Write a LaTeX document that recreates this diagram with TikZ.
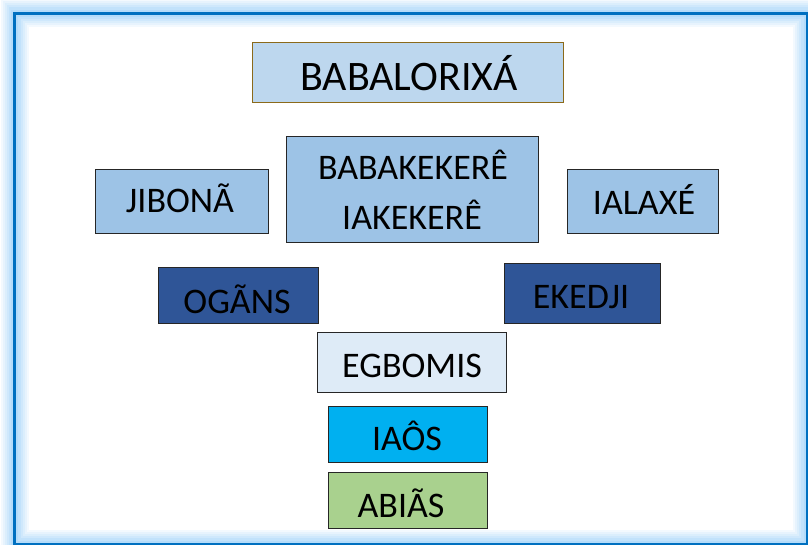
\documentclass[tikz,border=0pt]{standalone}
\usepackage{fontspec}
\setmainfont{Carlito}
\definecolor{frameblue}{HTML}{0070C0}
\definecolor{glowblue}{HTML}{9DD0F8}
\definecolor{topfill}{HTML}{BDD7EE}
\definecolor{topdraw}{HTML}{8B6A1A}
\definecolor{midfill}{HTML}{9DC3E6}
\definecolor{darkfill}{HTML}{2F5597}
\definecolor{paleFill}{HTML}{DEEBF7}
\definecolor{cyanfill}{HTML}{00B0F0}
\definecolor{greenfill}{HTML}{A9D18E}
\tikzset{
  boxbase/.style={draw=black!85, line width=1.3pt, rectangle, inner sep=0pt, anchor=north west},
  lbl/.style={anchor=base, inner sep=0pt, font=\fontsize{36}{40}\selectfont, text=black},
}
\begin{document}
\begin{tikzpicture}[x=1pt,y=-1pt]
\useasboundingbox (0,0) rectangle (808,545);
\begin{scope}
\clip (0,0) rectangle (808,545);
\foreach \w/\o in {28/0.12,24/0.14,20/0.16,16/0.2,12/0.25,7/0.35}{
  \draw[glowblue, line width=\w pt, opacity=\o] (14.5,13.5) rectangle (807,544);
}
\draw[frameblue, line width=2.6pt] (14.5,13.5) rectangle (807,544);
\end{scope}
% boxes
\node[boxbase, draw=topdraw, fill=topfill, minimum width=311pt, minimum height=60pt] (bab) at (252,42) {};
\node[boxbase, fill=midfill, minimum width=173pt, minimum height=64pt] (jib) at (95,169) {};
\node[boxbase, fill=midfill, minimum width=252pt, minimum height=106pt] (bk) at (286,136) {};
\node[boxbase, fill=midfill, minimum width=151pt, minimum height=64pt] (ial) at (567,169) {};
\node[boxbase, fill=darkfill, minimum width=160pt, minimum height=56pt] (og) at (158,267) {};
\node[boxbase, fill=darkfill, minimum width=156pt, minimum height=60pt] (ek) at (504,263) {};
\node[boxbase, fill=paleFill, minimum width=189pt, minimum height=60pt] (eg) at (317,332) {};
\node[boxbase, fill=cyanfill, minimum width=159pt, minimum height=56pt] (ia) at (328,406) {};
\node[boxbase, fill=greenfill, minimum width=159pt, minimum height=56pt] (ab) at (328,472) {};
% labels
\node[lbl, font=\fontsize{42}{46}\selectfont] (tbab) at (409,91) {BABALORIXÁ};
\node[lbl] (tjib) at (180,213) {JIBONÃ};
\node[lbl] (tbk1) at (413,180) {BABAKEKERÊ};
\node[lbl] (tbk2) at (412,230) {IAKEKERÊ};
\node[lbl] (tial) at (644,215) {IALAXÉ};
\node[lbl] (tog) at (237,313) {OGÃNS};
\node[lbl] (tek) at (581,308) {EKEDJI};
\node[lbl] (teg) at (412,377) {EGBOMIS};
\node[lbl] (tia) at (407,450) {IAÔS};
\node[lbl] (tab) at (401,517) {ABIÃS};
\end{tikzpicture}
\end{document}
